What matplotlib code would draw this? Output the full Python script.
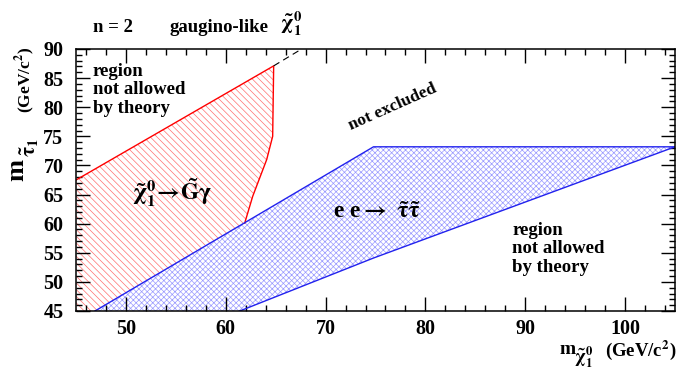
import matplotlib
matplotlib.use('Agg')
import matplotlib.pyplot as plt
from matplotlib.ticker import MultipleLocator

# photon channel (chi -> G gamma) excluded region, boundary points (GeV/c^2)
red_x = [45.0, 45.0, 64.8, 64.7, 64.1, 62.7, 61.9, 46.9]
red_y = [45.0, 67.5, 87.1, 75.0, 71.0, 64.7, 60.1, 45.0]
# dashed continuation of the kinematic limit
dash_x = [64.8, 67.6]
dash_y = [87.1, 90.0]
# e e -> stau stau excluded region
blue_x = [46.9, 74.8, 105.0, 74.8, 61.4]
blue_y = [45.0, 73.2, 73.2, 54.1, 45.0]

W, H = 699, 371
RED, BLUE = '#ff0000', '#2222ee'

plt.rcParams.update({
    'font.family': 'Liberation Serif', 'font.weight': 'bold',
    'mathtext.fontset': 'stix', 'mathtext.default': 'bf',
    'hatch.linewidth': 0.5, 'axes.linewidth': 1.1,
})

fig = plt.figure(figsize=(W / 100, H / 100), dpi=100)
ax = fig.add_axes([76 / W, (H - 311) / H, (675 - 76) / W, (311 - 49) / H])

ax.fill(red_x, red_y, facecolor='none', edgecolor='#ff7070', hatch='\\\\\\\\\\', linewidth=0)
ax.fill(blue_x, blue_y, facecolor='none', edgecolor='#9a9aff', hatch='xxxxxx', linewidth=0)
ax.plot(red_x[1:7], red_y[1:7], color=RED, lw=1.0)
ax.plot(blue_x[:3], blue_y[:3], color=BLUE, lw=1.0)
ax.plot(blue_x[2:], blue_y[2:], color=BLUE, lw=1.0)
ax.plot(dash_x, dash_y, color='black', lw=0.8, ls=(0, (6, 4)))

ax.set_xlim(45, 105)
ax.set_ylim(45, 90)
ax.xaxis.set_major_locator(MultipleLocator(10))
ax.xaxis.set_minor_locator(MultipleLocator(2))
ax.yaxis.set_major_locator(MultipleLocator(5))
ax.yaxis.set_minor_locator(MultipleLocator(1))
ax.tick_params(which='both', direction='in', top=True, right=True, width=1.0, labelsize=14.5)
ax.tick_params(which='major', length=10)
ax.tick_params(which='minor', length=4.5)
ax.tick_params(axis='x', pad=6)
ax.tick_params(axis='y', pad=9)

txt = dict(fontsize=13.5, fontweight='bold', linespacing=1.1)
ax.text(46.7, 87.6, 'region\nnot allowed\nby theory', va='top', ha='left', **txt)
ax.text(88.7, 60.3, 'region\nnot allowed\nby theory', va='top', ha='left', **txt)
ax.text(76.7, 80.1, 'not excluded', rotation=24, ha='center', va='center', fontsize=12.5)
ax.text(50.6, 65.3, r'$\tilde{\chi}_1^0\!\rightarrow\!\tilde{G}\gamma$', ha='left', va='center', fontsize=17)
ax.text(70.7, 62.0, r'e e$\rightarrow$ $\tilde{\tau}\tilde{\tau}$', ha='left', va='center', fontsize=17)

# header line above the frame
fig.text(93 / W, 1 - 27 / H, 'n = 2', ha='left', va='center', fontsize=13.5)
fig.text(170 / W, 1 - 27 / H, 'gaugino-like', ha='left', va='center', fontsize=13.5)
fig.text(280 / W, 1 - 24 / H, r'$\tilde{\chi}_1^0$', ha='left', va='center', fontsize=15)

# y title: m, stau subscript, units
fig.text(17 / W, 1 - 181 / H, 'm', rotation=90, ha='center', va='bottom', fontsize=19)
fig.text(30 / W, 1 - 157 / H, r'$\tilde{\tau}_1$', rotation=90, ha='center', va='bottom', fontsize=15)
fig.text(25 / W, 1 - 47 / H, r'(GeV/c$^2$)', rotation=90, ha='center', va='top', fontsize=12.5)

# x title
fig.text(559 / W, 1 - 350 / H, 'm', ha='left', va='center', fontsize=14)
fig.text(574 / W, 1 - 357 / H, r'$\tilde{\chi}_1^0$', ha='left', va='center', fontsize=13)
fig.text(676 / W, 1 - 350 / H, r'(GeV/c$^2$)', ha='right', va='center', fontsize=13.5)

fig.savefig('out.png', dpi=100)
